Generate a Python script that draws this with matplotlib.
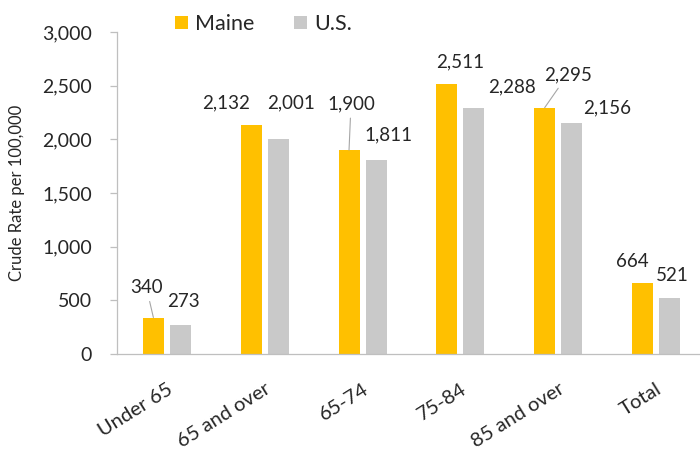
import matplotlib
matplotlib.use("Agg")
import matplotlib.pyplot as plt
import numpy as np
from matplotlib.ticker import FuncFormatter

# Chart data
categories = ["Under 65", "65 and over", "65-74", "75-84", "85 and over", "Total"]
maine = [340, 2132, 1900, 2511, 2295, 664]
us = [273, 2001, 1811, 2288, 2156, 521]

# Label offsets in pixels (dx, dy) from bar top centre; leader flag
maine_offsets = [(-7, 30), (-25, 22), (2, 46), (13, 23), (23, 33), (-10, 21)]
maine_leader = [True, False, True, False, True, False]
us_offsets = [(3, 23), (13, 36), (12, 25), (38, 22), (35, 15), (3, 23)]

MAINE_COLOR = "#FFC000"
US_COLOR = "#C9C9C9"
AXIS_COLOR = "#BFBFBF"
TEXT_COLOR = "#262626"
FS = 13.5

plt.rcParams["font.family"] = ["Lato", "DejaVu Sans"]

fig = plt.figure(figsize=(7.0, 4.51), dpi=100)
ax = fig.add_axes([117 / 700, 97 / 451, 583 / 700, 322 / 451])

x = np.arange(len(categories))
width = 0.215
shift = 0.138

bars_m = ax.bar(x - shift, maine, width, color=MAINE_COLOR, label="Maine")
bars_u = ax.bar(x + shift, us, width, color=US_COLOR, label="U.S.")

for rect, val, (dx, dy), lead in zip(bars_m, maine, maine_offsets, maine_leader):
    cx = rect.get_x() + rect.get_width() / 2
    arrow = dict(arrowstyle="-", color="#A6A6A6", lw=0.8, shrinkA=2, shrinkB=0) if lead else None
    ax.annotate(f"{val:,}", xy=(cx, val), xytext=(dx, dy), textcoords="offset pixels",
                ha="center", va="center", fontsize=FS, color=TEXT_COLOR, arrowprops=arrow)

for rect, val, (dx, dy) in zip(bars_u, us, us_offsets):
    cx = rect.get_x() + rect.get_width() / 2
    ax.annotate(f"{val:,}", xy=(cx, val), xytext=(dx, dy), textcoords="offset pixels",
                ha="center", va="center", fontsize=FS, color=TEXT_COLOR)

ax.set_ylim(0, 3000)
ax.set_xlim(-0.51, 5.45)
ax.set_yticks(np.arange(0, 3001, 500))
ax.yaxis.set_major_formatter(FuncFormatter(lambda v, p: f"{int(v):,}"))
ax.set_xticks(x)
ax.set_xticklabels(categories, rotation=32, ha="right", rotation_mode="anchor")

for side in ["top", "right"]:
    ax.spines[side].set_visible(False)
for side in ["left", "bottom"]:
    ax.spines[side].set_color(AXIS_COLOR)
    ax.spines[side].set_linewidth(0.9)

ax.tick_params(axis="y", length=5, color=AXIS_COLOR, width=0.9, pad=13,
               labelsize=14, labelcolor=TEXT_COLOR)
ax.tick_params(axis="x", length=0, pad=19, labelsize=14.5, labelcolor=TEXT_COLOR)

ax.set_ylabel("Crude Rate per 100,000", fontsize=12, color=TEXT_COLOR)
ax.yaxis.set_label_coords(-0.158, 0.5)

ax.legend(loc="center left", bbox_to_anchor=(0.0995, 1.025), ncol=2, frameon=False,
          fontsize=15.5, handlelength=0.6, handleheight=0.6, columnspacing=1.8,
          handletextpad=0.35, borderpad=0, borderaxespad=0)
for t in ax.get_legend().get_texts():
    t.set_color(TEXT_COLOR)

fig.savefig("out.png", dpi=100)
